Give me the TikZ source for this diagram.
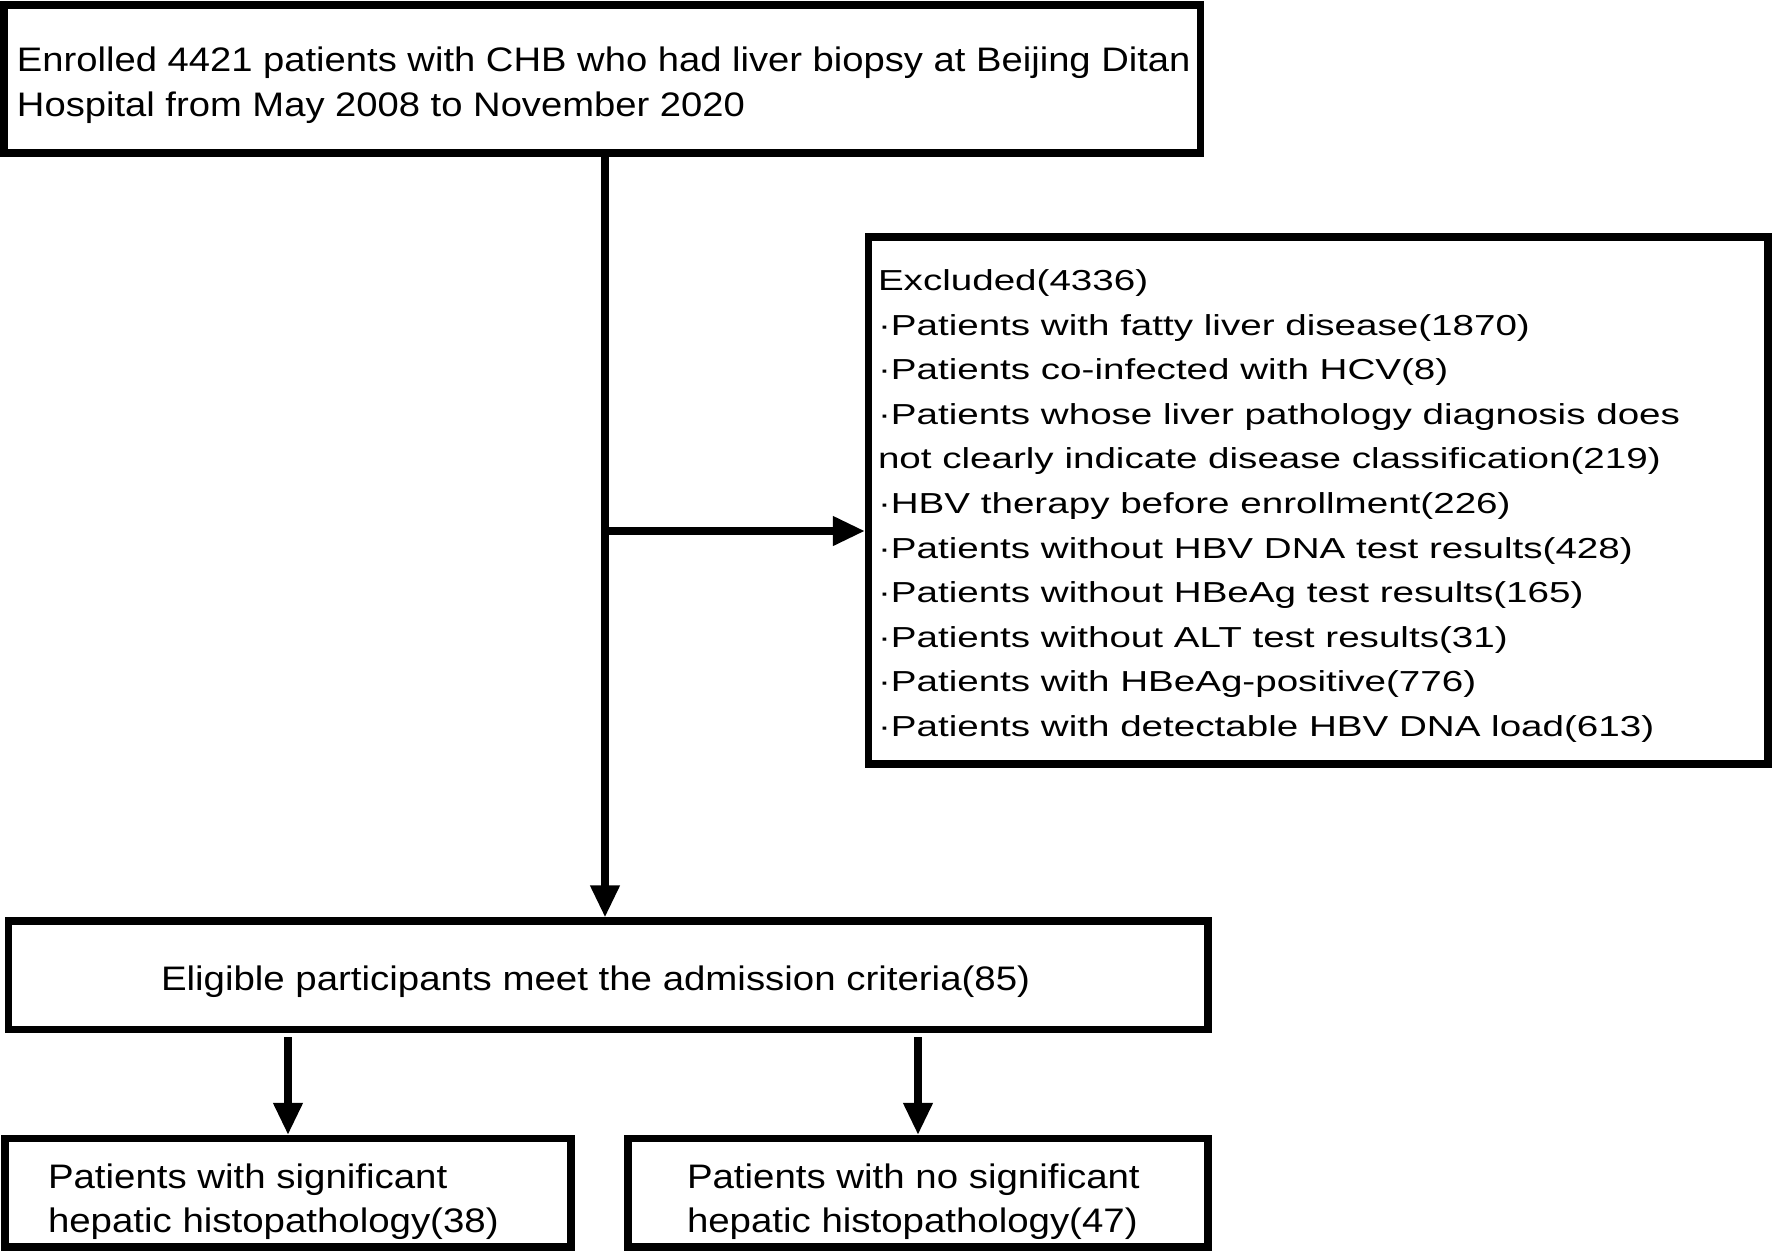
\documentclass[tikz,border=0pt]{standalone}
\usepackage{fontspec}
\setmainfont{Liberation Sans}
\newfontfamily\famA{Liberation Sans}[FakeStretch=1.13]
\newfontfamily\famB{Liberation Sans}[FakeStretch=1.335]
\newfontfamily\famC{Liberation Sans}[FakeStretch=1.123]
\newcommand\fsA{\famA\fontsize{17pt}{22.5pt}\selectfont}
\newcommand\fsB{\famB\fontsize{14.45pt}{22.3pt}\selectfont}
\newcommand\fsC{\famC\fontsize{17pt}{22.5pt}\selectfont}
\usetikzlibrary{arrows.meta,calc}
\begin{document}
\begin{tikzpicture}[x=0.5pt,y=-0.5pt,
  box/.style={draw,line width=3.65pt,inner sep=0pt,fill=none},
  arr/.style={line width=3.65pt,-{Triangle[length=16pt,width=14pt]}},
  txt/.style={anchor=base west,inner sep=0pt,outer sep=0pt}]
\useasboundingbox[fill=white] (0,0) rectangle (1772,1254);
% boxes
\node[box,minimum width=598.25pt,minimum height=74pt] (top) at (602.25,79) {};
\node[box,minimum width=449.75pt,minimum height=263.5pt] (excl) at (1318.25,500.5) {};
\node[box,minimum width=599.65pt,minimum height=54.25pt] (elig) at (608.35,975.25) {};
\node[box,minimum width=283pt,minimum height=54.25pt] (lbox) at (288,1192.75) {};
\node[box,minimum width=290pt,minimum height=54.25pt] (rbox) at (918,1192.75) {};
% texts
\node[txt,font=\fsC] (t1) at (17,71) {Enrolled 4421 patients with CHB who had liver biopsy at Beijing Ditan};
\node[txt,font=\fsC] (t2) at (17,116.7) {Hospital from May 2008 to November 2020};
\foreach \s [count=\i] in {Excluded(4336),
  ·Patients with fatty liver disease(1870),
  ·Patients co-infected with HCV(8),
  ·Patients whose liver pathology diagnosis does,
  not clearly indicate disease classification(219),
  ·HBV therapy before enrollment(226),
  ·Patients without HBV DNA test results(428),
  ·Patients without HBeAg test results(165),
  ·Patients without ALT test results(31),
  ·Patients with HBeAg-positive(776),
  ·Patients with detectable HBV DNA load(613)}
  \node[txt,font=\fsB] (ex\i) at (878,{290.5+(\i-1)*44.6}) {\s};
\node[txt,font=\fsA] (el) at (161,990) {Eligible participants meet the admission criteria(85)};
\node[txt,font=\fsA] (l1) at (48,1188.5) {Patients with significant};
\node[txt,font=\fsA] (l2) at (48,1232) {hepatic histopathology(38)};
\node[txt,font=\fsA] (r1) at (687,1188.5) {Patients with no significant};
\node[txt,font=\fsA] (r2) at (687,1232) {hepatic histopathology(47)};
% connectors
\coordinate (mx) at (605,0);
\coordinate (by) at (0,531);
\draw[arr] (top.south -| mx) -- (elig.north -| mx);
\draw[arr] (mx |- by) -- (excl.west |- by);
\draw[arr] ([yshift=-2pt]elig.south -| lbox.north) -- (lbox.north);
\draw[arr] ([yshift=-2pt]elig.south -| rbox.north) -- (rbox.north);
\end{tikzpicture}
\end{document}
